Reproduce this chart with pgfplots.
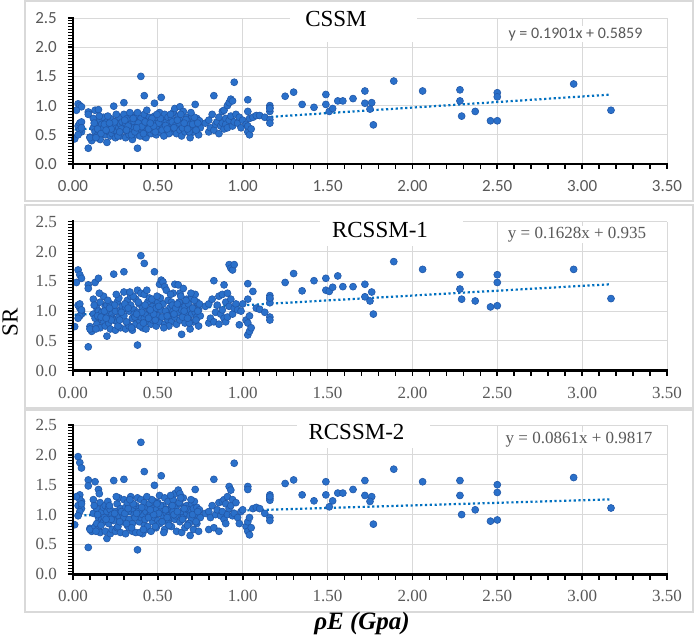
\documentclass[border=0pt]{standalone}
\usepackage{pgfplots}
\pgfplotsset{compat=1.18}
\usepackage{pgfplotstable}
\usepackage{fontspec}
\setmainfont{Liberation Serif}
\newfontfamily\calib{Carlito}
\definecolor{ptfill}{RGB}{42,112,202}
\definecolor{ptedge}{RGB}{34,88,168}
\definecolor{trend}{RGB}{0,112,192}
\definecolor{gridc}{RGB}{217,217,217}
\definecolor{tickc}{RGB}{89,89,89}
\definecolor{framec}{RGB}{217,217,217}

\pgfplotstableread{
x y1 y2 y3
0.01 0.43 0.74 0.83
0.03 1.03 1.69 1.97
0.04 1.00 1.61 1.87
0.05 0.98 1.55 1.78
0.04 0.60 1.05 1.33
0.05 0.55 0.95 1.22
0.03 0.65 1.10 1.15
0.04 0.70 1.12 1.25
0.05 0.72 1.00 1.10
0.04 0.58 0.92 1.05
0.03 0.50 0.88 0.98
0.05 0.62 1.02 1.18
0.02 0.92 1.48 1.30
0.09 0.27 0.40 0.45
0.09 0.89 1.44 1.58
0.09 0.85 1.38 1.48
0.10 0.46 0.74 0.77
0.11 0.40 0.66 0.72
0.10 0.45 0.70 0.75
0.12 0.62 0.95 1.02
0.12 0.78 1.20 1.25
0.13 0.55 0.88 0.80
0.13 0.92 1.48 1.55
0.14 0.70 1.05 1.10
0.14 0.48 0.78 0.85
0.15 0.65 1.00 0.95
0.15 0.93 1.55 1.42
0.15 0.58 0.90 0.75
0.16 0.75 1.15 1.20
0.16 0.42 0.72 0.70
0.17 0.68 0.98 1.05
0.17 0.55 0.85 0.92
0.18 0.80 1.25 1.12
0.18 0.62 0.82 0.88
0.19 0.50 0.75 0.72
0.19 0.70 1.08 1.15
0.20 0.37 0.58 0.60
0.20 0.60 0.92 0.98
0.20 0.72 1.10 1.05
0.21 0.55 0.80 0.85
0.21 0.66 1.02 1.12
0.22 0.48 0.70 0.68
0.22 0.78 1.12 1.08
0.23 0.62 0.95 1.00
0.23 0.52 0.88 0.75
0.24 0.99 1.62 1.57
0.24 0.70 1.05 0.95
0.24 0.58 0.85 0.90
0.25 0.45 0.68 0.72
0.25 0.65 1.00 1.05
0.26 0.75 1.15 1.18
0.26 0.55 0.82 0.78
0.27 0.62 0.90 0.98
0.27 0.80 1.22 1.28
0.28 0.48 0.72 0.70
0.28 0.68 1.02 1.10
0.29 0.58 0.95 0.88
0.29 0.72 1.08 1.02
0.30 1.05 1.66 1.59
0.30 0.85 1.32 1.25
0.30 0.62 0.92 0.95
0.31 0.45 0.70 0.68
0.31 0.70 1.05 1.12
0.32 0.55 0.80 0.82
0.32 0.78 1.18 1.20
0.33 0.62 1.00 0.92
0.33 0.50 0.75 0.78
0.34 0.68 1.10 1.05
0.34 0.85 1.25 1.30
0.35 0.58 0.88 0.85
0.35 0.42 0.68 0.72
0.36 0.72 1.02 1.08
0.36 0.62 0.95 1.00
0.37 0.80 1.20 1.15
0.37 0.50 0.78 0.70
0.38 0.27 0.43 0.41
0.38 0.65 0.98 1.02
0.38 0.88 1.35 1.28
0.39 0.55 0.85 0.88
0.39 0.72 1.12 1.10
0.40 1.50 1.93 2.21
0.40 0.60 0.90 0.95
0.40 0.78 1.30 1.25
0.41 0.48 0.72 0.68
0.41 0.68 1.05 1.00
0.42 1.17 1.80 1.72
0.42 0.58 0.88 0.82
0.42 0.85 1.28 1.20
0.43 0.62 0.95 1.05
0.43 0.45 0.70 0.75
0.44 0.75 1.15 1.12
0.44 0.55 0.82 0.80
0.45 0.68 1.02 0.98
0.45 0.80 1.22 1.18
0.46 0.52 0.78 0.72
0.46 0.62 0.92 1.02
0.47 0.72 1.08 1.10
0.47 0.58 0.85 0.88
0.48 1.04 1.66 1.49
0.48 0.65 0.98 0.95
0.48 0.82 1.18 1.22
0.49 0.50 0.75 0.78
0.49 0.70 1.05 1.08
0.50 0.60 0.92 0.90
0.50 0.78 1.15 1.20
0.51 0.55 0.82 0.85
0.51 0.88 1.45 1.32
0.52 1.14 1.52 1.65
0.52 0.68 1.02 1.05
0.53 0.62 1.49 0.98
0.53 0.75 1.12 1.15
0.54 0.50 0.78 0.75
0.54 0.85 1.41 1.28
0.55 0.65 0.98 1.02
0.55 0.72 1.35 1.08
0.56 0.58 0.85 0.88
0.56 0.80 1.18 1.22
0.57 0.62 0.92 0.95
0.57 0.70 1.05 1.10
0.58 0.55 0.82 0.80
0.58 0.78 1.15 1.12
0.59 0.68 1.00 1.05
0.59 0.88 1.30 1.25
0.60 0.60 0.90 0.92
0.60 0.95 1.45 1.35
0.61 0.72 1.08 1.15
0.61 0.52 0.78 0.72
0.62 0.65 0.98 1.00
0.62 0.82 1.44 1.41
0.63 0.58 0.85 0.88
0.63 0.98 1.30 1.35
0.63 0.75 1.12 1.18
0.64 0.48 0.61 0.70
0.64 0.68 1.02 1.05
0.65 0.90 1.38 1.28
0.65 0.62 0.92 0.95
0.66 0.72 1.08 1.12
0.66 0.55 0.80 0.78
0.67 0.80 1.20 1.15
0.67 0.65 0.95 1.02
0.68 0.58 0.88 0.85
0.68 0.75 1.12 1.08
0.69 0.68 1.02 0.98
0.69 0.45 0.70 0.65
0.70 0.62 0.95 0.92
0.70 0.82 1.22 1.18
0.71 0.72 1.05 1.10
0.71 0.55 0.82 0.75
0.72 1.02 1.28 1.42
0.72 0.65 0.98 1.00
0.73 0.60 0.90 0.85
0.73 0.78 1.15 1.12
0.74 0.68 1.02 1.05
0.74 0.50 0.75 0.72
0.75 0.62 0.92 0.95
0.125 0.70 1.10 1.15
0.145 0.60 0.92 1.00
0.165 0.52 0.90 0.82
0.185 0.68 1.00 0.95
0.205 0.82 1.18 1.22
0.225 0.60 0.85 0.92
0.245 0.72 1.10 1.02
0.265 0.48 0.75 0.80
0.285 0.60 0.98 1.05
0.305 0.75 1.12 1.02
0.325 0.65 1.05 1.10
0.345 0.50 0.72 0.78
0.365 0.55 0.90 0.95
0.385 0.70 1.15 1.05
0.405 0.64 0.98 1.12
0.425 0.72 1.10 0.92
0.445 0.60 0.88 0.95
0.465 0.78 1.20 1.25
0.485 0.55 0.85 0.80
0.505 0.70 1.08 1.02
0.525 0.58 0.90 0.88
0.545 0.66 1.00 1.08
0.565 0.52 0.75 0.82
0.585 0.72 1.10 1.15
0.605 0.66 1.05 0.98
0.625 0.70 1.15 1.20
0.645 0.62 0.90 0.92
0.665 0.76 1.18 1.10
0.685 0.55 0.80 0.85
0.705 0.68 1.05 1.00
0.725 0.58 0.85 0.88
0.745 0.74 1.12 1.08
0.135 0.45 0.70 0.72
0.195 0.58 0.88 0.92
0.255 0.85 1.28 1.30
0.315 0.58 0.82 0.85
0.355 0.78 1.25 1.18
0.395 0.48 0.75 0.70
0.435 0.92 1.35 1.30
0.475 0.65 0.95 1.00
0.515 0.78 1.22 1.15
0.555 0.60 0.92 0.95
0.595 0.62 0.95 1.00
0.635 0.85 1.25 1.28
0.675 0.60 0.88 0.82
0.715 0.80 1.18 1.22
0.155 0.82 1.30 1.35
0.215 0.70 1.05 1.15
0.275 0.55 0.85 0.88
0.335 0.88 1.32 1.25
0.375 0.62 0.95 1.02
0.415 0.52 0.80 0.75
0.455 0.70 1.02 1.08
0.495 0.85 1.25 1.18
0.535 0.48 0.72 0.70
0.575 0.85 1.28 1.32
0.615 0.75 1.12 1.05
0.655 0.70 1.00 1.10
0.695 0.88 1.30 1.25
0.735 0.70 1.00 1.05
0.78 0.70 1.08 1.02
0.80 0.55 0.80 0.75
0.80 0.75 1.12 1.05
0.81 0.62 0.88 0.95
0.82 0.85 1.20 1.15
0.83 1.17 1.51 1.59
0.83 0.58 0.82 0.78
0.84 0.68 0.98 1.00
0.85 0.72 1.10 1.08
0.86 0.52 0.78 0.72
0.86 0.80 1.25 1.20
0.87 0.65 0.95 0.98
0.88 0.90 1.28 1.22
0.88 0.70 1.02 1.05
0.89 0.60 0.88 0.92
0.89 0.92 1.44 1.25
0.90 0.78 1.15 1.18
0.90 0.68 0.82 0.85
0.91 1.00 1.30 1.30
0.91 0.62 0.90 1.00
0.92 1.05 1.78 1.47
0.92 0.75 1.08 1.10
0.93 1.11 1.72 1.41
0.93 0.82 1.20 1.15
0.94 1.08 1.69 1.25
0.94 0.65 0.95 0.98
0.95 1.40 1.78 1.86
0.95 0.72 1.05 1.02
0.96 0.85 1.12 1.20
0.97 0.70 1.02 0.95
0.98 0.80 0.77 0.85
0.99 0.62 1.00 1.05
1.00 0.75 1.12 1.08
1.02 0.68 0.85 0.80
1.03 1.10 1.46 1.47
1.03 0.90 1.20 1.42
1.03 0.55 0.60 0.72
1.04 0.50 0.66 0.66
1.03 0.65 0.80 0.88
1.04 0.78 0.92 0.95
1.05 0.60 0.72 0.78
1.06 0.80 1.33 1.10
1.08 0.83 1.05 1.12
1.10 0.83 1.03 1.10
1.13 0.80 0.98 1.02
1.16 1.00 1.26 1.33
1.16 0.96 1.20 1.27
1.16 0.90 1.14 1.24
1.16 0.76 0.90 0.95
1.16 0.70 0.85 0.90
1.16 0.95 1.22 1.30
}\cluster

\pgfplotstableread{
x y1 y2 y3
1.25 1.16 1.48 1.52
1.30 1.23 1.63 1.58
1.35 1.02 1.34 1.33
1.42 0.97 1.51 1.23
1.49 1.19 1.55 1.55
1.49 1.02 1.35 1.33
1.51 0.90 1.33 1.13
1.53 0.95 1.40 1.23
1.56 1.08 1.59 1.36
1.59 1.08 1.41 1.36
1.65 1.12 1.41 1.42
1.72 1.25 1.45 1.57
1.72 1.04 1.24 1.32
1.76 1.05 1.32 1.30
1.75 0.94 1.17 1.22
1.77 0.67 0.95 0.84
1.89 1.42 1.83 1.76
2.06 1.25 1.70 1.55
2.28 1.27 1.61 1.57
2.28 1.08 1.37 1.32
2.29 0.82 1.20 1.00
2.37 0.90 1.17 1.08
2.46 0.74 1.07 0.89
2.50 0.74 1.09 0.91
2.50 1.22 1.61 1.50
2.50 1.15 1.48 1.37
2.95 1.37 1.70 1.62
3.17 0.92 1.21 1.11
}\sparse

\pgfplotsset{
  panel/.style={
    scale only axis, width=594bp, anchor=south west,
    xmin=0, xmax=3.5, ymin=0, ymax=2.5,
    axis x line=bottom, axis y line=left,
    axis line style={-, line width=2.6bp, black},
    xtick={0,0.5,1,1.5,2,2.5,3,3.5}, ytick={0,0.5,1,1.5,2,2.5},
    tick align=outside, major tick length=5bp,
    every tick/.append style={black, line width=1.6bp},
    grid=major, major grid style={gridc, line width=0.9bp},
    /pgf/number format/assume math mode=true,
    xticklabel style={/pgf/number format/fixed, /pgf/number format/fixed zerofill, /pgf/number format/precision=2},
    yticklabel style={/pgf/number format/fixed, /pgf/number format/fixed zerofill, /pgf/number format/precision=1},
    x tick label style={anchor=north, inner sep=0pt, yshift=-11bp},
    y tick label style={anchor=east, inner sep=0pt, xshift=-11bp},
    ticklabel style={text=tickc},
    clip=false,
  },
  pts/.style={only marks, mark=*, mark size=3.5bp,
    mark options={fill=ptfill, draw=ptedge, line width=0.6bp}},
  tl/.style={trend, line width=2.2bp, dash pattern=on 2.2bp off 2.6bp},
}

% axis lines and ticks of one panel: #1 = bottom (bp), #2 = height of 0.05 (bp)
\newcommand\axdeco[2]{%
  \foreach \i in {0,...,35}
    \draw[black, line width=1.6bp] ({73bp+\i*16.97143bp},{#1*1bp}) -- ++(0,-5.5bp);
  \foreach \j in {0,...,50}
    \draw[black, line width=1.0bp] (73bp,{(#1+\j*#2)*1bp}) -- ++(-5.5bp,0);
  \draw[black, line width=2.6bp, line cap=rect] (73bp,{#1*1bp}) -- (667bp,{#1*1bp});
  \draw[black, line width=2.6bp, line cap=rect] (73bp,{#1*1bp}) -- (73bp,{(#1+50*#2)*1bp});
}

\begin{document}
\begin{tikzpicture}
\useasboundingbox (0bp,0bp) rectangle (699bp,644bp);
\draw[framec, line width=1.3bp, fill=white] (25bp,443bp) rectangle (693bp,643bp);
\draw[framec, line width=1.3bp, fill=white] (25bp,236bp) rectangle (693bp,439bp);
\draw[framec, line width=1.3bp, fill=white] (25bp,32bp) rectangle (693bp,234bp);

% Panel 1
\begin{axis}[panel, at={(73bp,480bp)}, height=146bp,
  ticklabel style={font=\calib\fontsize{17bp}{17bp}\selectfont}]
\addplot[tl] coordinates {(0.01,0.5878) (3.17,1.1885)};
\addplot[pts] table[x=x,y=y1] {\cluster};
\addplot[pts] table[x=x,y=y1] {\sparse};
\end{axis}
\axdeco{480}{2.92}
\fill[white] (290bp,602bp) rectangle (417bp,640bp);
\node[font=\fontsize{23bp}{23bp}\selectfont] at (336bp,625bp) {CSSM};
\node[fill=white, inner sep=1bp, text=tickc, font=\calib\fontsize{16bp}{16bp}\selectfont] at (575.5bp,610bp) {y = 0.1901x + 0.5859};

% Panel 2
\begin{axis}[panel, at={(73bp,273.3bp)}, height=149bp,
  ticklabel style={font=\fontsize{17bp}{17bp}\selectfont}]
\addplot[tl] coordinates {(0.01,0.9366) (3.17,1.4511)};
\addplot[pts] table[x=x,y=y2] {\cluster};
\addplot[pts] table[x=x,y=y2] {\sparse};
\end{axis}
\axdeco{273.3}{2.98}
\fill[white] (320bp,398bp) rectangle (463bp,437bp);
\node[font=\fontsize{23bp}{23bp}\selectfont] at (380bp,413.5bp) {RCSSM-1};
\node[fill=white, inner sep=1bp, text=tickc, font=\fontsize{17bp}{17bp}\selectfont] at (577bp,409.5bp) {y = 0.1628x + 0.935};

% Panel 3
\begin{axis}[panel, at={(73bp,69.7bp)}, height=149.3bp,
  ticklabel style={font=\fontsize{17bp}{17bp}\selectfont}]
\addplot[tl] coordinates {(0.01,0.9826) (3.17,1.2546)};
\addplot[pts] table[x=x,y=y3] {\cluster};
\addplot[pts] table[x=x,y=y3] {\sparse};
\end{axis}
\axdeco{69.7}{2.986}
\fill[white] (297bp,196bp) rectangle (430bp,232bp);
\node[font=\fontsize{23bp}{23bp}\selectfont] at (356.5bp,211.5bp) {RCSSM-2};
\node[fill=white, inner sep=1bp, text=tickc, font=\fontsize{17bp}{17bp}\selectfont] at (579bp,204bp) {y = 0.0861x + 0.9817};

\node[rotate=90, font=\fontsize{23bp}{23bp}\selectfont] at (10bp,322bp) {SR};
\node[font=\bfseries\itshape\fontsize{25bp}{25bp}\selectfont] at (362bp,21bp) {ρE (Gpa)};
\end{tikzpicture}
\end{document}
